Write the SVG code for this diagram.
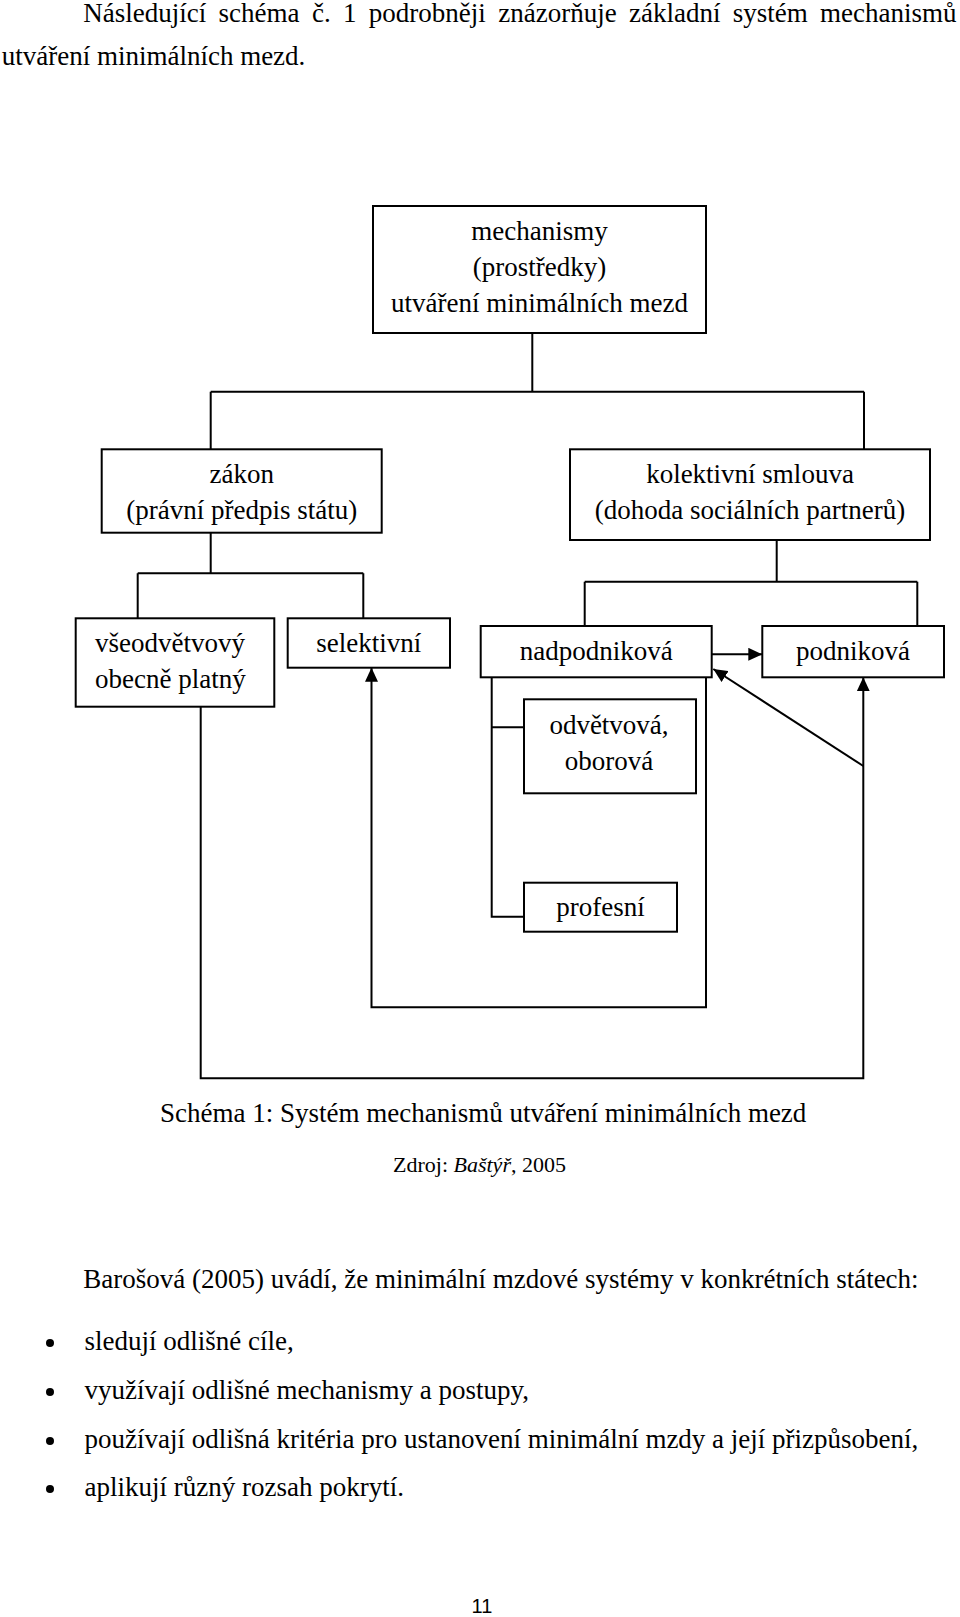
<svg xmlns="http://www.w3.org/2000/svg" width="960" height="1617" viewBox="0 0 960 1617">
<style>
.t{font-family:"Liberation Serif","Times New Roman",serif;font-size:27px;fill:#000}
.c{text-anchor:middle}
.b{fill:#fff;stroke:#000;stroke-width:2}
.l{fill:none;stroke:#000;stroke-width:2}
</style>
<defs>
<marker id="ah" markerUnits="userSpaceOnUse" markerWidth="14" markerHeight="13" refX="14" refY="6.5" orient="auto">
<path d="M0,0 L14,6.5 L0,13 z" fill="#000"/>
</marker>
</defs>
<rect width="960" height="1617" fill="#fff"/>

<text class="t" x="83.3" y="21.7" word-spacing="5.6">Následující schéma č. 1 podrobněji znázorňuje základní systém mechanismů</text>
<text class="t" x="1.7" y="65">utváření minimálních mezd.</text>

<g id="connectors">
<path class="l" d="M532.3,333 V391.7 M210.7,391.7 H864 M210.7,391.7 V449.3 M864,391.7 V449.3"/>
<path class="l" d="M210.7,532.7 V573.3 M137.7,573.3 H363.3 M137.7,573.3 V618.3 M363.3,573.3 V618.3"/>
<path class="l" d="M776.7,540 V581.7 M584.7,581.7 H917.3 M584.7,581.7 V626 M917.3,581.7 V626"/>
<path class="l" d="M711.7,654.3 H762.3" marker-end="url(#ah)"/>
<path class="l" d="M863.3,766 L713.3,669" marker-end="url(#ah)"/>
<path class="l" d="M200.7,706.7 V1078.3 H863.3 V677.3" marker-end="url(#ah)"/>
<path class="l" d="M706,677.3 V1007.3 H371.5 V667.7" marker-end="url(#ah)"/>
<path class="l" d="M491.7,677.3 V916.7 H524 M491.7,727.3 H524"/>
</g>

<g id="n-mechanismy">
<rect class="b" x="373" y="206" width="333" height="127"/>
<text class="t c" x="539.5" y="240">mechanismy</text>
<text class="t c" x="539.5" y="276">(prostředky)</text>
<text class="t c" x="539.5" y="312">utváření minimálních mezd</text>
</g>
<g id="n-zakon">
<rect class="b" x="101.7" y="449.3" width="280" height="83.4"/>
<text class="t c" x="241.7" y="483">zákon</text>
<text class="t c" x="241.7" y="519">(právní předpis státu)</text>
</g>
<g id="n-kolektivni">
<rect class="b" x="570" y="449.3" width="360" height="90.7"/>
<text class="t c" x="750" y="483">kolektivní smlouva</text>
<text class="t c" x="750" y="519">(dohoda sociálních partnerů)</text>
</g>
<g id="n-vseodvetvovy">
<rect class="b" x="75.7" y="618.3" width="198.6" height="88.4"/>
<text class="t" x="95" y="652">všeodvětvový</text>
<text class="t" x="95" y="688">obecně platný</text>
</g>
<g id="n-selektivni">
<rect class="b" x="287.7" y="618.3" width="162.3" height="49.4"/>
<text class="t c" x="368.8" y="652">selektivní</text>
</g>
<g id="n-nadpodnikova">
<rect class="b" x="480.7" y="626" width="231" height="51.3"/>
<text class="t c" x="596.2" y="660">nadpodniková</text>
</g>
<g id="n-podnikova">
<rect class="b" x="762.3" y="626" width="181.7" height="51.3"/>
<text class="t c" x="853" y="660">podniková</text>
</g>
<g id="n-odvetvova">
<rect class="b" x="524" y="699.3" width="172" height="94"/>
<text class="t c" x="609" y="733.5">odvětvová,</text>
<text class="t c" x="609" y="769.5">oborová</text>
</g>
<g id="n-profesni">
<rect class="b" x="524" y="882.7" width="153" height="49"/>
<text class="t c" x="600.5" y="916">profesní</text>
</g>

<text class="t" x="160" y="1122">Schéma 1: Systém mechanismů utváření minimálních mezd</text>
<text class="t" x="393" y="1172" style="font-size:22px">Zdroj: <tspan font-style="italic">Baštýř</tspan>, 2005</text>

<text class="t" x="83.3" y="1288">Barošová (2005) uvádí, že minimální mzdové systémy v konkrétních státech:</text>
<g fill="#000">
<circle cx="50" cy="1343" r="4"/>
<circle cx="50" cy="1392" r="4"/>
<circle cx="50" cy="1441" r="4"/>
<circle cx="50" cy="1489" r="4"/>
</g>
<text class="t" x="84.5" y="1350">sledují odlišné cíle,</text>
<text class="t" x="84.5" y="1399">využívají odlišné mechanismy a postupy,</text>
<text class="t" x="84.5" y="1448">používají odlišná kritéria pro ustanovení minimální mzdy a její přizpůsobení,</text>
<text class="t" x="84.5" y="1496">aplikují různý rozsah pokrytí.</text>

<text x="482" y="1613" text-anchor="middle" style="font-family:'Liberation Sans',Arial,sans-serif;font-size:20px;fill:#000">11</text>
</svg>
